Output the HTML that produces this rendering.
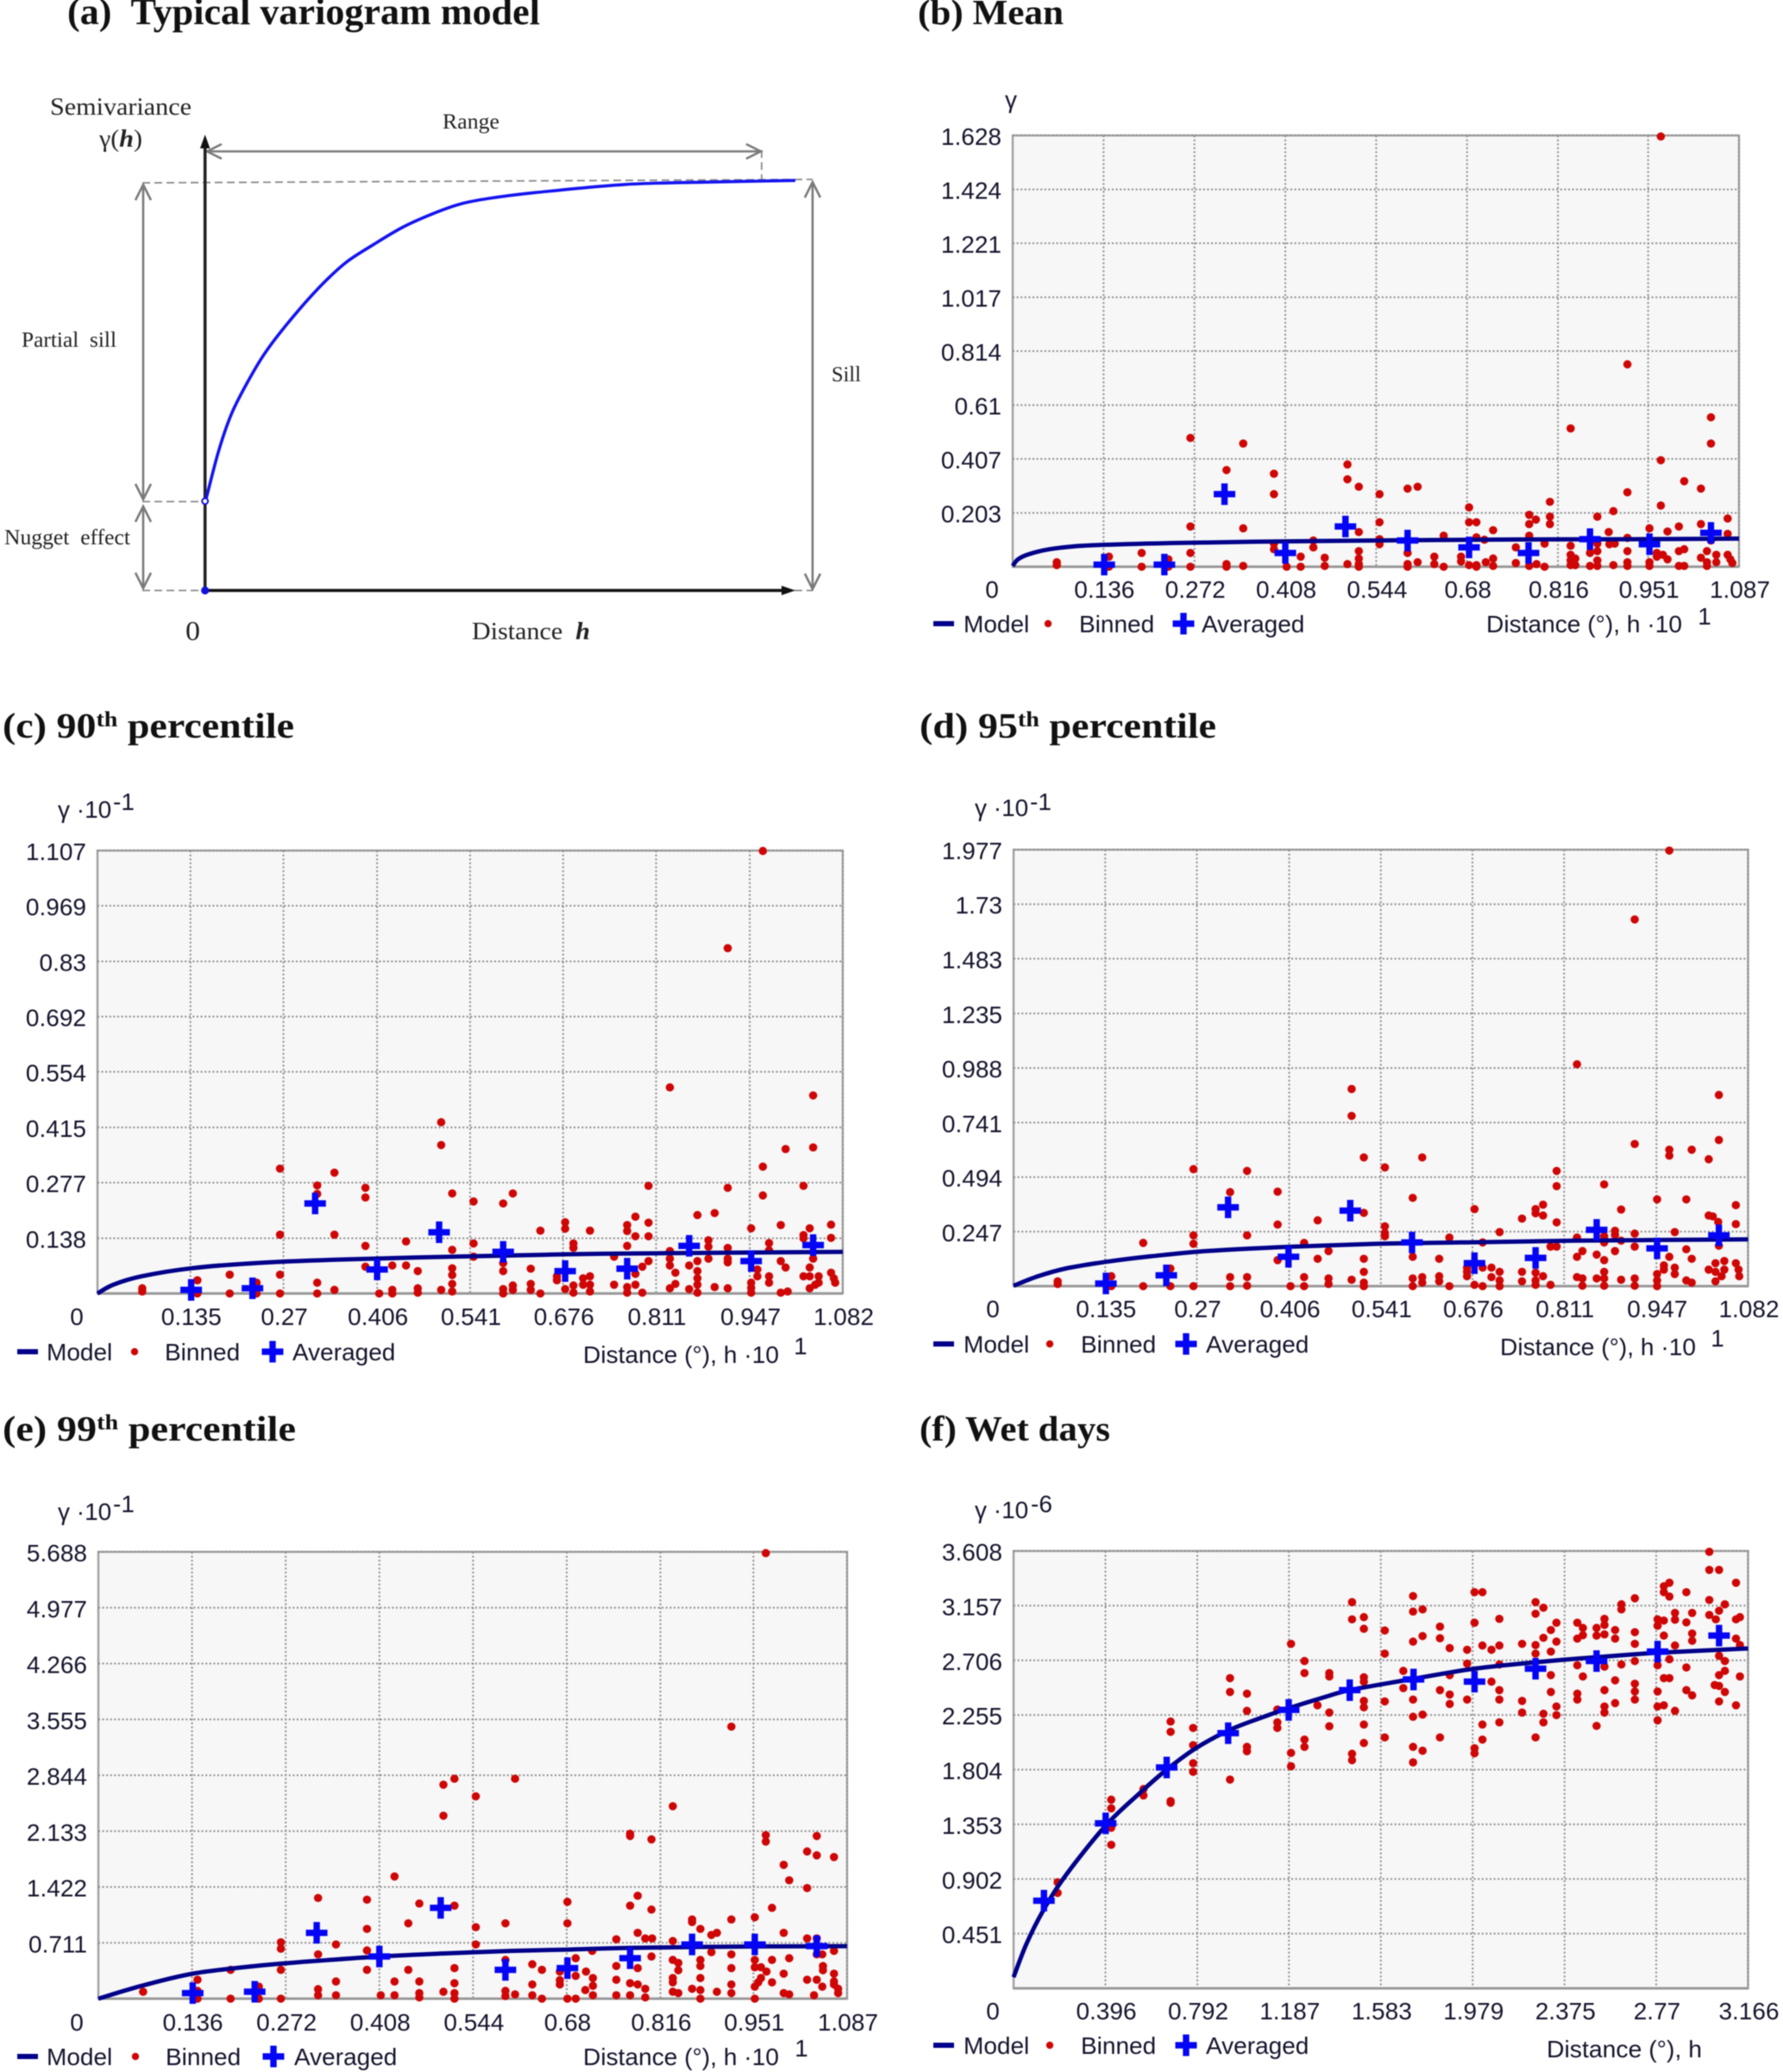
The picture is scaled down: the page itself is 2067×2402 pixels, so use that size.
<!DOCTYPE html>
<html lang="en">
<head>
<meta charset="utf-8">
<title>Variogram panels</title>
<style>
html,body{margin:0;padding:0;background:#fff;}
svg{display:block;}
#panel-a,#panels,.title{filter:blur(.45px);}
.title{font-family:"Liberation Serif",serif;font-weight:bold;fill:#111;}
.schem{font-family:"Liberation Serif",serif;font-size:28px;fill:#222;}
.tick{font-family:"Liberation Sans",sans-serif;font-size:28px;fill:#14142c;}
</style>
</head>
<body>
<svg id="figure" xmlns="http://www.w3.org/2000/svg" width="2067" height="2402" viewBox="0 0 2067 2402">
  <rect x="0" y="0" width="2067" height="2402" fill="#ffffff"/>

  <text class="title" x="78" y="28" font-size="43" textLength="548" lengthAdjust="spacingAndGlyphs">(a)&#160;&#160;Typical variogram model</text>
  <text class="title" x="1064" y="28" font-size="41" textLength="169" lengthAdjust="spacingAndGlyphs">(b) Mean</text>
  <text class="title" x="3" y="855" font-size="41" textLength="338" lengthAdjust="spacingAndGlyphs">(c) 90<tspan font-size="25" dy="-13">th</tspan><tspan dy="13"> percentile</tspan></text>
  <text class="title" x="1066" y="855" font-size="41" textLength="344" lengthAdjust="spacingAndGlyphs">(d) 95<tspan font-size="25" dy="-13">th</tspan><tspan dy="13"> percentile</tspan></text>
  <text class="title" x="3" y="1670" font-size="41" textLength="340" lengthAdjust="spacingAndGlyphs">(e) 99<tspan font-size="25" dy="-13">th</tspan><tspan dy="13"> percentile</tspan></text>
  <text class="title" x="1066" y="1670" font-size="41" textLength="221" lengthAdjust="spacingAndGlyphs">(f) Wet days</text>

  <g id="panel-a">
    <g stroke="#8a8a8a" stroke-width="1.8" stroke-dasharray="9 5" fill="none">
      <line x1="165" y1="212" x2="942" y2="208"/>
      <line x1="165" y1="581.5" x2="237" y2="581.5"/>
      <line x1="165" y1="684.5" x2="237" y2="684.5"/>
      <line x1="921" y1="684.5" x2="942" y2="684.5"/>
      <line x1="883" y1="174" x2="883" y2="209"/>
    </g>
    <g stroke="#7a7a7a" stroke-width="2.6" fill="none">
      <g>
        <line x1="166" y1="214" x2="166" y2="579"/>
        <polyline points="157,232 166,214 175,232"/>
        <polyline points="157,561 166,579 175,561"/>
      </g>
      <g>
        <line x1="166" y1="587" x2="166" y2="682"/>
        <polyline points="157,605 166,587 175,605"/>
        <polyline points="157,664 166,682 175,664"/>
      </g>
      <g>
        <line x1="942" y1="211" x2="942" y2="683"/>
        <polyline points="933,229 942,211 951,229"/>
        <polyline points="933,665 942,683 951,665"/>
      </g>
      <g>
        <line x1="240" y1="175.5" x2="882" y2="175.5"/>
        <polyline points="257,167 240,175.5 257,184"/>
        <polyline points="865,167 882,175.5 865,184"/>
      </g>
    </g>
    <line x1="237.7" y1="165" x2="237.7" y2="685" stroke="#222" stroke-width="3.6"/>
    <polygon points="237.7,156 232,172 243.4,172" fill="#111"/>
    <line x1="237" y1="684.5" x2="912" y2="684.5" stroke="#111" stroke-width="3.4"/>
    <polygon points="922,684.5 906,679 906,690" fill="#111"/>
    <g id="panel-a-curve-layer"></g>
    <circle cx="237.7" cy="581" r="3.4" fill="#fff" stroke="#1010e0" stroke-width="2"/>
    <circle cx="237.7" cy="684.5" r="4.6" fill="#1010e0"/>
    <text class="schem" x="58" y="133" textLength="164" lengthAdjust="spacingAndGlyphs">Semivariance</text>
    <text class="schem" x="115" y="170" textLength="50" lengthAdjust="spacingAndGlyphs">γ(<tspan font-weight="bold" font-style="italic">h</tspan>)</text>
    <text class="schem" x="513" y="149" font-size="25" textLength="66" lengthAdjust="spacingAndGlyphs" style="font-size:25px">Range</text>
    <text class="schem" x="25" y="402" textLength="110" lengthAdjust="spacingAndGlyphs" style="font-size:25px">Partial&#160;&#160;sill</text>
    <text class="schem" x="5" y="631" textLength="146" lengthAdjust="spacingAndGlyphs" style="font-size:25px">Nugget&#160;&#160;effect</text>
    <text class="schem" x="964" y="442" textLength="34" lengthAdjust="spacingAndGlyphs" style="font-size:25px">Sill</text>
    <text class="schem" x="215" y="742" textLength="17" lengthAdjust="spacingAndGlyphs" style="font-size:32px">0</text>
    <text class="schem" x="547" y="741" textLength="137" lengthAdjust="spacingAndGlyphs">Distance&#160;&#160;<tspan font-weight="bold" font-style="italic">h</tspan></text>
  </g>
  <g id="panels"></g>
</svg>

<script>
// ---------- Panel (a) schematic curve ----------
const schematicDistance=[0,.0023,.0228,.0447,.0716,.1008,.1397,.1885,.2372,.2858,.3347,.3834,.432,.4808,.5587,.7107,.8546,1];
const schematicGamma=[.219,.228,.341,.433,.510,.581,.655,.736,.803,.849,.891,.923,.948,.962,.976,.996,1.002,1.006];

// ---------- Panel (b) Mean ----------
const meanXTicks=['0.136','0.272','0.408','0.544','0.68','0.816','0.951','1.087'];
const meanYTicks=['0.203','0.407','0.61','0.814','1.017','1.221','1.424','1.628'];
const meanModelH=[0,.008,.025,.055,.097,.140,.25,.419,.588,.757,.926,1.087];
const meanModelGamma=[.003,.028,.048,.066,.078,.083,.09,.096,.1,.103,.104,.106];
const meanAveraged=[[.137,.008],[.227,.008],[.317,.274],[.408,.052],[.498,.152],[.591,.099],[.683,.073],[.772,.052],[.864,.104],[.953,.085],[1.045,.128]];
const meanBinned=[[.97,1.624],[.92,.764],[.835,.522],[1.045,.564],[1.045,.465],[.97,.402],[.266,.486],[.345,.465],[.32,.365],[.391,.351],[.391,.274],[.501,.386],[.501,.33],[.518,.302],[.549,.274],[.591,.295],[.606,.302],[1.005,.323],[1.03,.295],[.92,.281],[.97,.231],[.899,.21],[.804,.245],[.804,.189],[.804,.161],[.773,.196],[.783,.178],[.773,.161],[.683,.224],[.683,.168],[.694,.168],[.549,.168],[.266,.152],[.345,.145],[.518,.131],[.875,.189],[.953,.145],[.997,.152],[1.03,.161],[1.07,.182],[.98,.133],[1.07,.124],[.719,.138],[.645,.117],[.892,.131],[.694,.111],[.773,.117],[.549,.104],[.549,.085],[.45,.099],[.45,.073],[.391,.087],[.391,.066],[.431,.038],[.431,0],[.467,.034],[.467,.003],[.501,.01],[.518,.059],[.518,.031],[.518,.01],[.518,0],[.591,.052],[.591,.01],[.591,0],[.606,.017],[.631,.038],[.631,.01],[.645,0],[.671,.038],[.671,.02],[.683,.006],[.694,.006],[.694,0],[.708,.017],[.719,.031],[.719,.003],[.706,.102],[.753,.073],[.753,.014],[.773,.003],[.784,.01],[.796,0],[.796,.087],[.835,.079],[.835,.045],[.835,.024],[.835,.006],[.842,.031],[.842,.006],[.864,.052],[.864,.003],[.875,.087],[.875,.059],[.875,.024],[.875,.003],[.893,.085],[.901,.087],[.899,.006],[.92,.109],[.92,.059],[.92,.017],[.92,.003],[.953,.017],[.953,.003],[.964,.052],[.964,.038],[.973,.045],[.98,.028],[.997,.059],[.997,.003],[1.005,.066],[1.005,.003],[1.03,.034],[1.039,.059],[1.039,.017],[1.039,.003],[1.053,.045],[1.053,.017],[1.045,.099],[1.07,.045],[1.074,.028],[1.077,.014],[.066,.017],[.066,.006],[.144,.038],[.144,0],[.193,.052],[.193,0],[.233,.028],[.233,0],[.266,.052],[.266,0],[.32,.01],[.32,0],[.345,.003],[.41,0]];

// ---------- Panel (c) 90th percentile ----------
const p90XTicks=['0.135','0.27','0.406','0.541','0.676','0.811','0.947','1.082'];
const p90YTicks=['0.138','0.277','0.415','0.554','0.692','0.83','0.969','1.107'];
const p90ModelH=[0,.023,.064,.136,.23,.354,.519,.684,.849,1.082];
const p90ModelGamma=[0,.022,.043,.063,.076,.085,.092,.098,.101,.104];
const p90Averaged=[[.136,.009],[.225,.013],[.316,.225],[.406,.06],[.496,.153],[.589,.104],[.679,.056],[.769,.062],[.859,.119],[.949,.081],[1.039,.121]];
const p90Binned=[[.966,1.106],[.915,.863],[.831,.515],[1.039,.495],[1.039,.365],[.999,.361],[.499,.428],[.499,.371],[.265,.312],[.344,.302],[.319,.27],[.319,.249],[.389,.264],[.389,.24],[.515,.25],[.546,.23],[.589,.225],[.603,.25],[.966,.317],[.966,.245],[.915,.264],[1.025,.269],[.8,.269],[.871,.196],[.896,.201],[.781,.192],[.769,.171],[.769,.156],[.8,.177],[.781,.143],[.8,.143],[.679,.178],[.679,.162],[.643,.157],[.715,.157],[.949,.163],[.992,.171],[1.034,.163],[1.065,.172],[1.025,.146],[1.025,.138],[1.065,.139],[.265,.147],[.344,.147],[.389,.119],[.448,.13],[.546,.125],[.515,.109],[.546,.092],[.691,.125],[.691,.114],[.769,.119],[.887,.133],[.887,.117],[.887,.087],[.915,.114],[.915,.087],[.915,.078],[.975,.126],[.975,.108],[.831,.106],[.831,.087],[.831,.07],[.871,.081],[.871,.056],[.871,.038],[.871,.022],[.871,.002],[.859,.07],[.859,.011],[.839,.052],[.839,.024],[.831,.013],[.8,.081],[.791,.067],[.791,.002],[.781,.049],[.781,.022],[.75,.092],[.75,.022],[.769,.016],[.769,.002],[.705,.038],[.705,.022],[.715,.043],[.715,.022],[.715,.005],[.691,.02],[.679,.011],[.691,.002],[.667,.043],[.667,.033],[.629,.062],[.629,.024],[.629,.009],[.643,0],[.603,.02],[.603,.009],[.589,.076],[.589,.056],[.589,.011],[.589,0],[.515,.063],[.515,.046],[.515,.024],[.515,.005],[.499,.009],[.465,.056],[.465,.013],[.465,.002],[.448,.07],[.428,.07],[.428,.009],[.428,0],[.389,.067],[.409,0],[.344,.009],[.319,.027],[.319,0],[.265,.047],[.265,0],[.231,.027],[.231,0],[.192,.047],[.192,0],[.145,.033],[.145,0],[.065,.013],[.065,.005],[.896,.016],[.915,.013],[.949,.027],[.949,.014],[.949,.002],[.958,.06],[.958,.043],[.975,.043],[.975,.027],[.992,.081],[.999,.065],[.992,.002],[1.002,.005],[1.025,.043],[1.034,.065],[1.034,.043],[1.034,.013],[1.039,.087],[1.042,.022],[1.047,.043],[1.047,.027],[1.065,.052],[1.069,.038],[1.071,.027]];

// ---------- Panel (d) 95th percentile ----------
const p95XTicks=['0.135','0.27','0.406','0.541','0.676','0.811','0.947','1.082'];
const p95YTicks=['0.247','0.494','0.741','0.988','1.235','1.483','1.73','1.977'];
const p95ModelH=[0,.036,.077,.136,.202,.285,.41,.535,.66,.826,1.082];
const p95ModelGamma=[.002,.045,.08,.11,.135,.159,.179,.192,.198,.206,.212];
const p95Averaged=[[.136,.012],[.225,.049],[.316,.357],[.405,.133],[.496,.342],[.587,.198],[.679,.104],[.769,.128],[.859,.255],[.948,.171],[1.039,.23]];
const p95Binned=[[.966,1.973],[.915,1.661],[.83,1.005],[1.039,.866],[.498,.893],[.498,.771],[.516,.583],[.602,.583],[.547,.538],[.265,.53],[.344,.522],[.915,.644],[.966,.618],[.966,.591],[.999,.618],[1.024,.575],[1.039,.662],[.8,.522],[.8,.453],[.87,.461],[.319,.426],[.389,.428],[.588,.4],[.679,.349],[.948,.393],[.991,.393],[1.064,.367],[.895,.347],[.78,.369],[.78,.32],[.769,.349],[.769,.33],[.749,.306],[.516,.332],[.448,.298],[.389,.279],[.8,.289],[1.024,.32],[1.03,.316],[1.038,.291],[1.064,.281],[.547,.271],[.547,.241],[.547,.226],[.265,.23],[.265,.192],[.344,.23],[.191,.196],[.428,.196],[.691,.198],[.642,.22],[.716,.245],[.83,.22],[.886,.251],[.886,.232],[.886,.159],[.915,.238],[.915,.179],[.974,.245],[.87,.226],[.87,.198],[.895,.206],[.791,.179],[.8,.179],[.838,.159],[.83,.133],[.859,.143],[.87,.118],[.464,.159],[.389,.118],[.448,.124],[.516,.124],[.516,.065],[.516,.016],[.516,0],[.588,.133],[.588,.035],[.588,0],[.627,.124],[.627,.045],[.627,.022],[.602,.041],[.602,.016],[.668,.084],[.668,.065],[.668,.045],[.691,.084],[.691,0],[.704,.084],[.704,.041],[.716,.065],[.716,.026],[.716,0],[.642,0],[.679,.006],[.749,.065],[.749,.022],[.769,.061],[.769,.026],[.769,.006],[.78,.045],[.791,.006],[.498,.029],[.464,.035],[.464,.01],[.428,.041],[.428,0],[.408,0],[.319,.041],[.319,0],[.344,.041],[.344,.002],[.265,0],[.231,.08],[.231,0],[.191,0],[.144,.045],[.144,0],[.065,.022],[.065,.01],[.83,.041],[.838,.035],[.838,.002],[.859,.035],[.87,.065],[.87,.035],[.87,.002],[.895,.029],[.915,.035],[.915,.002],[.948,.055],[.948,.026],[.948,0],[.958,.094],[.958,.075],[.966,.133],[.974,.084],[.974,.055],[.991,.167],[.999,.124],[.991,.026],[.999,.016],[1.024,.075],[1.034,.104],[1.034,.065],[1.034,.022],[1.047,.114],[1.047,.075],[1.064,.104],[1.068,.075],[1.069,.045],[1.039,.183],[1.043,.045]];

// ---------- Panel (e) 99th percentile ----------
const p99XTicks=['0.136','0.272','0.408','0.544','0.68','0.816','0.951','1.087'];
const p99YTicks=['0.711','1.422','2.133','2.844','3.555','4.266','4.977','5.688'];
const p99ModelH=[0,.063,.137,.228,.318,.409,.5,.599,.681,.772,.929,1.087];
const p99ModelGamma=[0,.164,.318,.416,.482,.537,.575,.608,.625,.647,.663,.669];
const p99Averaged=[[.137,.071],[.227,.088],[.317,.838],[.408,.537],[.497,1.156],[.591,.367],[.681,.389],[.772,.515],[.862,.69],[.953,.69],[1.043,.669]];
const p99Binned=[[.969,5.672],[.919,3.463],[.501,2.724],[.517,2.8],[.605,2.8],[.548,2.576],[.501,2.329],[.834,2.45],[.772,2.099],[.772,2.071],[.803,2.028],[.969,2.082],[.969,2],[1.043,2.071],[1.029,1.874],[1.043,1.825],[1.068,1.803],[.995,1.704],[1.003,1.507],[1.029,1.408],[.43,1.556],[.319,1.282],[.39,1.26],[.466,1.211],[.517,1.184],[.681,1.233],[.783,1.31],[.772,1.184],[.803,1.134],[.978,1.156],[.919,1.008],[.953,1.036],[.862,1.008],[.862,.975],[.45,.959],[.591,.959],[.681,.959],[.548,.91],[.39,.888],[.874,.888],[.995,.838],[.783,.838],[.89,.811],[.898,.838],[.752,.756],[.794,.767],[.804,.767],[.834,.734],[1.029,.767],[1.043,.767],[.265,.718],[.265,.636],[.345,.69],[.548,.69],[.39,.614],[.319,.564],[.717,.608],[1.068,.608],[.919,.564],[.89,.592],[.803,.537],[.693,.515],[.591,.493],[1.003,.515],[.978,.493],[1.043,.564],[1.051,.564],[.834,.493],[.842,.455],[.842,.362],[.874,.493],[.874,.416],[.874,.263],[.63,.438],[.644,.367],[.192,.367],[.265,.367],[.39,.367],[.45,.367],[.517,.389],[.752,.416],[.752,.241],[.752,.044],[.783,.389],[.772,.197],[.783,.181],[.919,.389],[.953,.493],[.953,.4],[.962,.4],[.97,.345],[.978,.208],[.995,.318],[1.052,.416],[1.052,.362],[1.068,.318],[1.068,.219],[.708,.345],[.693,.29],[.67,.345],[.67,.236],[.67,.181],[.718,.263],[.718,.164],[.718,.044],[.707,.11],[.144,.241],[.144,.099],[.144,0],[.065,.088],[.192,0],[.233,.153],[.233,0],[.265,0],[.319,.121],[.319,.044],[.345,.219],[.345,.044],[.41,.044],[.43,.219],[.43,.044],[.466,.219],[.466,.071],[.466,.016],[.501,.088],[.517,.197],[.517,.071],[.517,0],[.591,.099],[.591,.033],[.605,.055],[.63,.181],[.63,.044],[.644,0],[.681,0],[.693,0],[.772,.044],[.794,.126],[.794,.016],[.834,.263],[.834,.208],[.834,.088],[.842,.071],[.862,.126],[.874,.11],[.874,0],[.898,.088],[.919,.181],[.919,.071],[.953,0],[.953,.153],[.958,.208],[.962,.263],[.995,.071],[1.003,.055],[1.029,.241],[1.039,.044],[1.043,.241],[1.051,.153],[1.068,.181],[1.074,.126],[1.074,.071]];

// ---------- Panel (f) Wet days ----------
const wetXTicks=['0.396','0.792','1.187','1.583','1.979','2.375','2.77','3.166'];
const wetYTicks=['0.451','0.902','1.353','1.804','2.255','2.706','3.157','3.608'];
const wetModelH=[0,.056,.131,.226,.397,.543,.66,.786,.933,1.079,1.186,1.347,1.449,1.687,1.987,2.25,2.513,2.776,3.166];
const wetModelGamma=[.092,.369,.652,.935,1.343,1.609,1.804,1.981,2.133,2.24,2.311,2.406,2.46,2.541,2.637,2.69,2.732,2.768,2.804];
const wetAveraged=[[.131,.723],[.397,1.361],[.66,1.822],[.925,2.105],[1.186,2.297],[1.449,2.46],[1.724,2.548],[1.987,2.53],[2.25,2.637],[2.513,2.7],[2.776,2.778],[3.041,2.91]];
const wetBinned=[[.19,.875],[.19,.787],[.421,1.556],[.421,1.485],[.421,1.325],[.421,1.184],[.56,1.644],[.56,1.591],[.677,1.545],[.677,1.531],[.677,2.201],[.677,2.116],[.774,2.148],[.774,2.006],[.774,1.857],[.774,1.786],[.933,2.559],[.933,2.445],[.933,1.722],[1.006,2.431],[1.006,2.289],[1.006,1.992],[1.006,1.956],[1.137,2.3],[1.137,2.194],[1.137,2.148],[1.196,2.842],[1.196,1.942],[1.196,1.832],[1.254,2.7],[1.254,2.601],[1.254,2.052],[1.254,1.992],[1.31,2.335],[1.361,2.601],[1.361,2.573],[1.361,2.275],[1.361,2.162],[1.459,3.186],[1.459,3.044],[1.459,1.935],[1.459,1.882],[1.51,3.062],[1.51,2.966],[1.51,2.566],[1.51,2.53],[1.51,2.371],[1.51,2.318],[1.51,2.176],[1.51,2.024],[1.6,2.952],[1.6,2.761],[1.6,2.367],[1.6,2.07],[1.68,2.619],[1.68,2.477],[1.722,3.236],[1.722,3.108],[1.722,2.86],[1.722,2.382],[1.722,2.24],[1.722,1.992],[1.722,1.864],[1.763,3.126],[1.763,2.906],[1.763,2.258],[1.763,1.96],[1.838,2.984],[1.838,2.888],[1.838,2.46],[1.838,2.07],[1.88,2.807],[1.88,2.584],[1.88,2.424],[1.88,2.346],[1.955,2.793],[1.955,2.679],[1.955,2.382],[1.987,3.268],[2.021,3.268],[1.987,3.016],[1.987,1.981],[1.987,1.939],[2.021,2.828],[2.021,2.176],[2.021,2.052],[2.06,2.793],[2.06,2.53],[2.094,3.048],[2.094,2.828],[2.094,2.672],[2.094,2.46],[2.094,2.382],[2.094,2.194],[2.192,2.842],[2.192,2.371],[2.192,2.275],[2.25,3.186],[2.25,3.09],[2.25,2.832],[2.25,2.761],[2.25,2.07],[2.284,3.14],[2.284,2.892],[2.284,2.265],[2.284,2.194],[2.316,2.956],[2.316,2.778],[2.316,2.584],[2.316,2.445],[2.34,3.016],[2.34,2.86],[2.34,2.325],[2.34,2.254],[2.43,3.016],[2.43,2.885],[2.43,2.665],[2.43,2.431],[2.43,2.382],[2.454,2.973],[2.454,2.913],[2.454,2.573],[2.513,2.973],[2.513,2.91],[2.513,2.165],[2.547,3.048],[2.547,2.998],[2.547,2.92],[2.547,2.654],[2.547,2.46],[2.547,2.325],[2.547,2.275],[2.593,2.956],[2.593,2.885],[2.593,2.541],[2.593,2.353],[2.62,3.168],[2.62,3.126],[2.62,2.672],[2.678,3.218],[2.678,2.938],[2.678,2.842],[2.678,2.7],[2.678,2.513],[2.678,2.449],[2.678,2.382],[2.776,3.044],[2.776,2.991],[2.776,2.665],[2.776,2.449],[2.776,2.325],[2.776,2.211],[2.803,3.317],[2.803,3.268],[2.803,3.034],[2.803,2.91],[2.803,2.559],[2.803,2.335],[2.827,3.346],[2.827,3.232],[2.827,2.715],[2.827,2.559],[2.851,3.097],[2.851,3.041],[2.851,2.828],[2.851,2.289],[2.9,3.268],[2.9,3.019],[2.9,2.647],[2.9,2.46],[2.925,3.097],[2.925,2.927],[2.925,2.867],[2.925,2.417],[2.999,3.601],[2.999,3.452],[2.999,3.204],[2.999,3.08],[3.041,3.452],[3.041,3.115],[3.041,2.743],[3.041,2.584],[3.041,2.495],[3.041,2.367],[3.027,3.044],[3.022,2.502],[3.066,3.168],[3.066,2.7],[3.066,2.619],[3.066,2.445],[3.114,3.346],[3.114,3.044],[3.114,2.885],[3.114,2.335],[3.131,3.062],[3.131,2.832],[3.131,2.573]];

const SVGNS='http://www.w3.org/2000/svg';
function mk(tag,attrs,parent){
  const el=document.createElementNS(SVGNS,tag);
  for(const k in attrs){el.setAttribute(k,attrs[k]);}
  parent.appendChild(el);
  return el;
}
function label(parent,x,y,str,anchor,extra){
  const t=mk('text',Object.assign({class:'tick',x:x,y:y,'text-anchor':anchor||'start'},extra||{}),parent);
  t.textContent=str;
  return t;
}
function smoothPath(pts){
  let d='M'+pts[0][0].toFixed(1)+' '+pts[0][1].toFixed(1);
  for(let i=0;i<pts.length-1;i++){
    const p0=pts[Math.max(i-1,0)],p1=pts[i],p2=pts[i+1],p3=pts[Math.min(i+2,pts.length-1)];
    const c1x=p1[0]+(p2[0]-p0[0])/6,c1y=p1[1]+(p2[1]-p0[1])/6;
    const c2x=p2[0]-(p3[0]-p1[0])/6,c2y=p2[1]-(p3[1]-p1[1])/6;
    d+=' C'+c1x.toFixed(1)+' '+c1y.toFixed(1)+' '+c2x.toFixed(1)+' '+c2y.toFixed(1)+' '+p2[0].toFixed(1)+' '+p2[1].toFixed(1);
  }
  return d;
}

// Panel (a) curve
(function(){
  const layer=document.getElementById('panel-a-curve-layer');
  const sx=v=>237.7+v*684.3;
  const sy=v=>684.5-v*472.5;
  const pts=schematicDistance.map((v,i)=>[sx(v),sy(schematicGamma[i])]);
  const curve=mk('path',{d:smoothPath(pts),fill:'none',stroke:'#1414f0','stroke-width':3.6},layer);
  
  
})();

function drawPanel(c){
  const root=document.getElementById('panels');
  const g=mk('g',{},root);
  
  
  const xMax=parseFloat(c.xTicks[c.xTicks.length-1]);
  const yMax=parseFloat(c.yTicks[c.yTicks.length-1]);
  const sx=v=>c.left+(v/xMax)*(c.right-c.left);
  const sy=v=>c.bottom-(v/yMax)*(c.bottom-c.top);

  const bg=mk('rect',{x:c.left,y:c.top,width:c.right-c.left,height:c.bottom-c.top,fill:'#f7f7f7',stroke:'#a0a0a0','stroke-width':2.4},g);
  
  

  c.xTicks.forEach(function(t){
    const v=parseFloat(t);
    const gx=mk('line',{x1:sx(v),x2:sx(v),y1:c.top,y2:c.bottom,stroke:'#8c8c8c','stroke-width':2,'stroke-dasharray':'2 2.6'},g);
    
    
    const lx=label(g,sx(v)+1,c.xLabelY+10,t,'middle');
    
    
  });
  c.yTicks.forEach(function(t){
    const v=parseFloat(t);
    const gy=mk('line',{x1:c.left,x2:c.right,y1:sy(v),y2:sy(v),stroke:'#8c8c8c','stroke-width':2,'stroke-dasharray':'2 2.6'},g);
    
    
    const ly=label(g,c.tickRight,sy(v)+11,t,'end');
    
    
  });
  const zero=label(g,c.zeroX,c.xLabelY+10,'0','middle');
  
  

  const axisLine=mk('line',{x1:c.left,x2:c.right,y1:c.bottom,y2:c.bottom,stroke:'#999999','stroke-width':3},g);
  
  

  c.binned.forEach(function(p){
    const dot=mk('circle',{cx:sx(p[0]),cy:sy(p[1]),r:4.8,fill:'#cf0606'},g);
    
    
  });

  const modelPts=c.modelH.map((h,i)=>[sx(h),sy(c.modelGamma[i])]);
  const model=mk('path',{d:smoothPath(modelPts),fill:'none',stroke:'#00008a','stroke-width':5},g);
  
  

  c.averaged.forEach(function(p){
    const px=sx(p[0]),py=sy(p[1]);
    const plus=mk('path',{d:'M'+(px-12.5)+' '+py+' H'+(px+12.5)+' M'+px+' '+(py-12.5)+' V'+(py+12.5),stroke:'#0505f5','stroke-width':7.4,fill:'none'},g);
    
    
  });

  // y-axis title
  const yt=label(g,c.yTitle.x,c.yTitle.y+10,c.yTitle.text,'start');
  
  
  if(c.yTitle.sup){
    const ys=label(g,c.yTitle.supX,c.yTitle.supY+10,c.yTitle.sup,'start');
    
    
  }

  // legend
  const L=c.legend;
  const lg=mk('g',{},g);
  
  
  const ml=mk('rect',{x:L.line,y:L.y-3,width:24,height:6,fill:'#00008a'},lg);
  
  
  const mt=label(lg,L.model,L.y+10,'Model','start');
  
  
  const bd=mk('circle',{cx:L.dot,cy:L.y,r:4.2,fill:'#cf0606'},lg);
  
  
  const bt=label(lg,L.binned,L.y+10,'Binned','start');
  
  
  const ap=mk('path',{d:'M'+(L.plus-12.5)+' '+L.y+' H'+(L.plus+12.5)+' M'+L.plus+' '+(L.y-12.5)+' V'+(L.y+12.5),stroke:'#0505f5','stroke-width':7.4,fill:'none'},lg);
  
  
  const at=label(lg,L.avg,L.y+10,'Averaged','start');
  
  

  // x-axis title
  const X=c.xTitle;
  const xt=label(g,X.x,X.y+10,X.text,'start',{textLength:X.len,lengthAdjust:'spacingAndGlyphs'});
  
  
  if(X.sup){
    const xs=label(g,X.supX,X.supY+10,X.sup,'middle');
    
    
  }
}

drawPanel({name:'mean',left:1174,right:2016,top:157,bottom:657,tickRight:1161,xLabelY:683,zeroX:1150,
  xTicks:meanXTicks,yTicks:meanYTicks,modelH:meanModelH,modelGamma:meanModelGamma,averaged:meanAveraged,binned:meanBinned,
  yTitle:{text:'γ',x:1165,y:115},
  legend:{y:723,line:1082,model:1117,dot:1215,binned:1251,plus:1372,avg:1393},
  xTitle:{text:'Distance (°), h ·10',x:1723,y:723,len:227,sup:'1',supX:1976,supY:714}});
drawPanel({name:'percentile-90',left:113,right:977,top:986,bottom:1499.5,tickRight:100,xLabelY:1526,zeroX:89,
  xTicks:p90XTicks,yTicks:p90YTicks,modelH:p90ModelH,modelGamma:p90ModelGamma,averaged:p90Averaged,binned:p90Binned,
  yTitle:{text:'γ ·10',x:67,y:938,sup:'-1',supX:131,supY:929},
  legend:{y:1567,line:20,model:54,dot:156,binned:191,plus:316,avg:339},
  xTitle:{text:'Distance (°), h ·10',x:676,y:1570,len:227,sup:'1',supX:928,supY:1560}});
drawPanel({name:'percentile-95',left:1175,right:2026.5,top:985,bottom:1491,tickRight:1162,xLabelY:1517,zeroX:1151,
  xTicks:p95XTicks,yTicks:p95YTicks,modelH:p95ModelH,modelGamma:p95ModelGamma,averaged:p95Averaged,binned:p95Binned,
  yTitle:{text:'γ ·10',x:1130,y:936,sup:'-1',supX:1194,supY:929},
  legend:{y:1558,line:1082,model:1117,dot:1217,binned:1253,plus:1375,avg:1398},
  xTitle:{text:'Distance (°), h ·10',x:1739,y:1561,len:227,sup:'1',supX:1991,supY:1551}});
drawPanel({name:'percentile-99',left:114,right:982,top:1799,bottom:2317,tickRight:101,xLabelY:2344,zeroX:89,
  xTicks:p99XTicks,yTicks:p99YTicks,modelH:p99ModelH,modelGamma:p99ModelGamma,averaged:p99Averaged,binned:p99Binned,
  yTitle:{text:'γ ·10',x:67,y:1752,sup:'-1',supX:131,supY:1743},
  legend:{y:2384,line:20,model:54,dot:157,binned:192,plus:317,avg:341},
  xTitle:{text:'Distance (°), h ·10',x:676,y:2384,len:227,sup:'1',supX:929,supY:2374}});
drawPanel({name:'wet-days',left:1175,right:2026.5,top:1798,bottom:2305,tickRight:1162,xLabelY:2331,zeroX:1151,
  xTicks:wetXTicks,yTicks:wetYTicks,modelH:wetModelH,modelGamma:wetModelGamma,averaged:wetAveraged,binned:wetBinned,
  yTitle:{text:'γ ·10',x:1130,y:1750,sup:'-6',supX:1195,supY:1743},
  legend:{y:2371,line:1082,model:1117,dot:1217,binned:1253,plus:1375,avg:1398},
  xTitle:{text:'Distance (°), h',x:1793,y:2375,len:180}});
</script>
</body>
</html>
